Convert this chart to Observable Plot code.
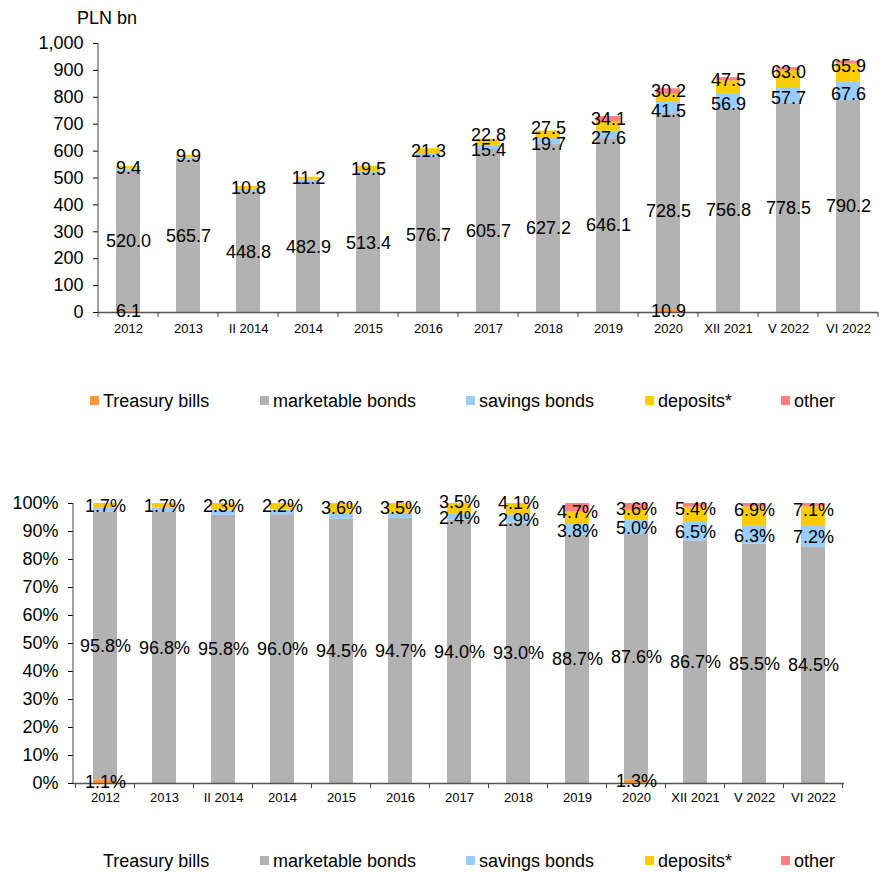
<!DOCTYPE html>
<html><head><meta charset="utf-8">
<script src="https://cdn.jsdelivr.net/npm/d3@7"></script>
<script src="https://cdn.jsdelivr.net/npm/@observablehq/plot@0.6"></script>
<style>
body{margin:0;background:#fff;font-family:"Liberation Sans",Arial,sans-serif;color:#000;}
#wrap{position:relative;width:886px;height:872px;overflow:hidden;background:#fff;}
.unit{position:absolute;left:77px;top:8px;font-size:18px;line-height:20px;}
.chart{position:absolute;left:0;}
.leg{position:absolute;left:0;width:886px;height:20px;font-size:18px;}
.item{position:absolute;top:0;line-height:20px;white-space:nowrap;}
.sw{position:absolute;width:9px;height:9px;top:5px;}
</style></head><body><div id="wrap"></div>
<script>
const categories = ["2012","2013","II 2014","2014","2015","2016","2017","2018","2019","2020","XII 2021","V 2022","VI 2022"];
const seriesNames = ["Treasury bills","marketable bonds","savings bonds","deposits*","other"];
const seriesColors = ["#FF9933","#B2B2B2","#99CCFF","#FFCC00","#FF8080"];
const treasuryBills   = [6.1, 0, 0, 0, 0, 0, 0, 0, 0, 10.9, 0, 0, 0];
const marketableBonds = [520.0, 565.7, 448.8, 482.9, 513.4, 576.7, 605.7, 627.2, 646.1, 728.5, 756.8, 778.5, 790.2];
const savingsBonds    = [7.3, 8.8, 8.9, 8.9, 10.4, 11.0, 15.4, 19.7, 27.6, 41.5, 56.9, 57.7, 67.6];
const deposits        = [9.4, 9.9, 10.8, 11.2, 19.5, 21.3, 22.8, 27.5, 34.1, 30.2, 47.5, 63.0, 65.9];
const other           = [0, 0, 0, 0, 0, 0, 0.5, 0, 20.6, 20.5, 11.7, 11.3, 11.0];
const yTicksTop = [0,100,200,300,400,500,600,700,800,900,1000];
const yTicksPct = [0,0.1,0.2,0.3,0.4,0.5,0.6,0.7,0.8,0.9,1];
const unitLabel = "PLN bn";
// first category from which savings bonds are labelled
const savingsLabelFrom = "2017";

const seriesValues = [treasuryBills, marketableBonds, savingsBonds, deposits, other];
const rows = [];
seriesNames.forEach((s, si) => categories.forEach((c, i) => rows.push({cat: c, i, si, series: s, value: seriesValues[si][i]})));
const totals = categories.map((c, i) => d3.sum(seriesValues, v => v[i]));
const labFrom = categories.indexOf(savingsLabelFrom);

function shown(d) {
  if (d.si === 0) return d.value > 0;
  if (d.si === 1 || d.si === 3) return true;
  if (d.si === 2) return d.i >= labFrom;
  return false;
}
// group 0: centred, group 1: savings (late), group 2: deposits (late)
function group(d) {
  if (d.si === 2) return 1;
  if (d.si === 3 && d.i >= labFrom) return 2;
  return 0;
}
const fmtV = d => d.value.toFixed(1);
const fmtP = d => (d.value / totals[d.i] * 100).toFixed(1) + "%";

const FONT = "Liberation Sans, Arial, sans-serif";
const wrap = document.getElementById("wrap");

function makeChart({top, height, marginLeft, marginRight, marginTop, marginBottom, normalize, yDomain, ticks, tickFormat, xPad, fmt, dys}) {
  const stackBase = {x: "cat", y: "value", offset: normalize ? "normalize" : null};
  const textMarks = dys.map((dy, g) => Plot.text(rows, Plot.stackY({
    ...stackBase,
    text: d => (shown(d) && group(d) === g) ? fmt(d) : null,
    fontSize: 18, fill: "#000", dy
  })));
  const chart = Plot.plot({
    width: 886, height, marginLeft, marginRight, marginTop, marginBottom,
    style: {fontFamily: FONT, fontSize: "18px", color: "#000", background: "transparent"},
    x: {domain: categories, paddingInner: 0.6, paddingOuter: 0.3, label: null},
    y: {domain: yDomain, label: null},
    color: {domain: seriesNames, range: seriesColors},
    marks: [
      Plot.barY(rows, Plot.stackY({...stackBase, fill: "series"})),
      Plot.axisY({ticks, tickSize: 5, tickPadding: 10, tickFormat, fontSize: 18, label: null}),
      Plot.axisX({tickSize: 0, tickPadding: xPad, fontSize: 13, label: null}),
      Plot.ruleY([0], {stroke: "#555", strokeWidth: 1.5}),
      ...textMarks
    ]
  });
  // Excel-style axis line and ticks at category boundaries, from Plot's scales
  const xs = chart.scale("x"), ys = chart.scale("y");
  const step = xs.step ?? (xs.range[1] - xs.range[0]) / categories.length;
  const bw = xs.bandwidth ?? step * 0.4;
  const y0 = ys.apply(yDomain[0]), y1 = ys.apply(yDomain[1]);
  const svg = d3.select(chart.tagName.toLowerCase() === "svg" ? chart : chart.querySelector("svg"));
  const g = svg.append("g").attr("stroke", "#444").attr("stroke-width", 1);
  g.append("line").attr("x1", marginLeft).attr("x2", marginLeft).attr("y1", y1).attr("y2", y0);
  const bounds = categories.map(c => xs.apply(c) - (step - bw) / 2);
  bounds.push(bounds[bounds.length - 1] + step);
  bounds.forEach(b => g.append("line").attr("x1", b).attr("x2", b).attr("y1", y0).attr("y2", y0 + 5));
  chart.classList.add("chart");
  chart.style.top = top + "px";
  chart.style.position = "absolute";
  wrap.appendChild(chart);
}

const unit = document.createElement("div");
unit.className = "unit"; unit.textContent = unitLabel; wrap.appendChild(unit);

makeChart({top: 0, height: 340, marginLeft: 98, marginRight: 8, marginTop: 43, marginBottom: 28,
  normalize: false, yDomain: [0, 1000], ticks: yTicksTop, tickFormat: d3.format(","), xPad: 11,
  fmt: fmtV, dys: [0, 3, -7]});

makeChart({top: 470, height: 342, marginLeft: 73, marginRight: 42, marginTop: 33, marginBottom: 29,
  normalize: true, yDomain: [0, 1], ticks: yTicksPct, tickFormat: d3.format(".0%"), xPad: 9,
  fmt: fmtP, dys: [0, 1, -6]});

const legendTextX = [103, 273, 479, 658, 794];
function legend(top, swatches) {
  const L = document.createElement("div");
  L.className = "leg"; L.style.top = top + "px";
  seriesNames.forEach((s, i) => {
    if (swatches[i]) {
      const sw = document.createElement("div");
      sw.className = "sw"; sw.style.left = (legendTextX[i] - 13.5) + "px"; sw.style.background = seriesColors[i];
      L.appendChild(sw);
    }
    const t = document.createElement("div");
    t.className = "item"; t.style.left = legendTextX[i] + "px"; t.textContent = s;
    L.appendChild(t);
  });
  wrap.appendChild(L);
}
legend(391, [true, true, true, true, true]);
legend(851, [false, true, true, true, true]);
</script></body></html>
